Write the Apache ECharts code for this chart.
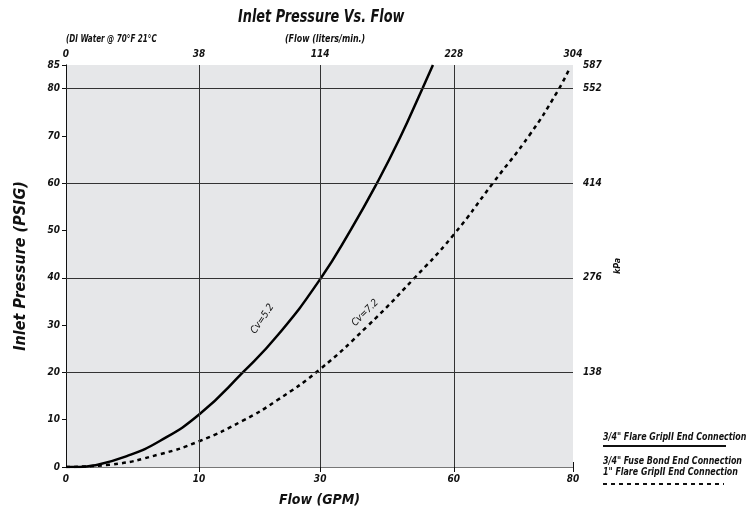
<!DOCTYPE html>
<html>
<head>
<meta charset="utf-8">
<script src="https://cdn.jsdelivr.net/npm/echarts@6/dist/echarts.min.js"></script>
<style>html,body{margin:0;padding:0;background:#fff}#c{width:747px;height:512px}</style>
</head>
<body>
<div id="c"></div>
<script>
// Flow axis positions (linear GPM scale 0-80) and their printed labels
const flowTickPos = [0, 21.0, 40.1, 61.2, 80];
const gpmLabels = ['0', '10', '30', '60', '80'];
const lpmLabels = ['0', '38', '114', '228', '304'];
// Pressure axis
const psiTicks = [0, 10, 20, 30, 40, 50, 60, 70, 80, 85];
const psiGrid = [20, 40, 60, 80];
const kpaTicks = [20, 40, 60, 80, 85];
const kpaLabels = ['138', '276', '414', '552', '587'];

// Cv = 5.2 curve (solid)
const solidFlow = [0, 2.2, 4.3, 9.6, 14.8, 21.1, 27.9, 33.5, 40.1, 45.0, 49.1, 52.7, 56.3, 57.9];
const solidPsi  = [0, 0, 0.3, 2.3, 5.5, 11.2, 20.0, 28.0, 39.7, 50.3, 60.1, 69.6, 80.2, 85];
// Cv = 7.2 curve (dashed)
const dashFlow = [0, 6.9, 14.8, 21.1, 27.9, 33.3, 40.1, 47.5, 54.8, 61.1, 67.4, 73.2, 77.5, 79.5];
const dashPsi  = [0, 0.5, 2.7, 5.5, 9.8, 14.1, 20.7, 29.7, 39.7, 49.0, 60.1, 70.3, 79.3, 84.4];

const titleText = 'Inlet Pressure Vs. Flow';
const subLeft = '(DI Water @ 70°F 21°C';
const subMid = '(Flow (liters/min.)';
const legendSolid = '3/4" Flare GripII End Connection';
const legendDash1 = '3/4" Fuse Bond End Connection';
const legendDash2 = '1" Flare GripII End Connection';

const FF = "'DejaVu Sans Condensed', 'Liberation Sans', sans-serif";
const tf = (size) => ({ fontFamily: FF, fontStyle: 'italic', fontWeight: 'bold', fontSize: size, color: '#111' });
const gfont = (size) => `italic bold ${size}px ${FF}`;

const chart = echarts.init(document.getElementById('c'), null, { renderer: 'canvas' });
const zip = (a, b) => a.map((v, i) => [v, b[i]]);

chart.setOption({
  animation: false,
  grid: { left: 66, right: 174, top: 65, bottom: 44, show: true, backgroundColor: '#e6e7e9', borderWidth: 0 },
  xAxis: [
    {
      type: 'value', position: 'bottom', min: 0, max: 80,
      name: 'Flow (GPM)', nameLocation: 'middle', nameGap: 26, nameTextStyle: tf(14),
      axisLine: { show: true, lineStyle: { color: '#111', width: 1 } },
      axisTick: { show: true, customValues: flowTickPos.slice(1), length: 5, lineStyle: { color: '#111' } },
      axisLabel: { customValues: flowTickPos, margin: 7, formatter: v => gpmLabels[flowTickPos.indexOf(v)], ...tf(10) },
      splitLine: { show: false }
    },
    {
      type: 'value', position: 'top', min: 0, max: 80,
      axisLine: { show: true, lineStyle: { color: '#777', width: 1 } },
      axisTick: { show: true, customValues: flowTickPos, length: 5, lineStyle: { color: '#111' } },
      axisLabel: { customValues: flowTickPos, margin: 6, formatter: v => lpmLabels[flowTickPos.indexOf(v)], ...tf(10) },
      splitLine: { show: false }
    }
  ],
  yAxis: [
    {
      type: 'value', position: 'left', min: 0, max: 85,
      name: 'Inlet Pressure (PSIG)', nameLocation: 'middle', nameGap: 37, nameRotate: 90, nameTextStyle: tf(16),
      axisLine: { show: true, lineStyle: { color: '#777', width: 1 } },
      axisTick: { show: true, customValues: psiTicks, length: 4, lineStyle: { color: '#111' } },
      axisLabel: { customValues: psiTicks, margin: 6, ...tf(10) },
      splitLine: { show: false }
    },
    {
      type: 'value', position: 'right', min: 0, max: 85,
      name: 'kPa', nameLocation: 'middle', nameGap: 24, nameRotate: 90, nameTextStyle: tf(9),
      axisLine: { show: true, lineStyle: { color: '#111', width: 1 } },
      axisTick: { show: true, customValues: psiGrid, length: 8, lineStyle: { color: '#333' } },
      axisLabel: { customValues: kpaTicks, margin: 10, formatter: v => kpaLabels[kpaTicks.indexOf(v)], ...tf(10) },
      splitLine: { show: false }
    }
  ],
  graphic: [
    { type: 'text', x: 238, y: 9, scaleX: 0.84, style: { text: titleText, font: gfont(17), fill: '#111' } },
    { type: 'text', x: 66, y: 34, scaleX: 0.8, style: { text: subLeft, font: gfont(10), fill: '#111' } },
    { type: 'text', x: 285, y: 34, scaleX: 0.88, style: { text: subMid, font: gfont(10), fill: '#111' } },
    { type: 'text', x: 603, y: 432, scaleX: 0.8, style: { text: legendSolid, font: gfont(11), fill: '#111' } },
    { type: 'line', shape: { x1: 603, y1: 446, x2: 726, y2: 446 }, style: { stroke: '#111', lineWidth: 2 } },
    { type: 'text', x: 603, y: 456, scaleX: 0.8, style: { text: legendDash1, font: gfont(11), fill: '#111' } },
    { type: 'text', x: 603, y: 467, scaleX: 0.8, style: { text: legendDash2, font: gfont(11), fill: '#111' } },
    { type: 'line', shape: { x1: 603, y1: 484, x2: 724, y2: 484 }, style: { stroke: '#111', lineWidth: 2, lineDash: [4, 4] } }
  ],
  series: [
    {
      type: 'line', data: [], z: 1, silent: true,
      markLine: {
        silent: true, symbol: 'none', label: { show: false },
        lineStyle: { color: '#333', width: 1, type: 'solid' },
        data: flowTickPos.slice(1, 4).map(v => ({ xAxis: v })).concat(psiGrid.map(v => ({ yAxis: v })))
      }
    },
    {
      name: 'Cv=5.2', type: 'line', smooth: true, symbol: 'none', z: 3,
      data: zip(solidFlow, solidPsi),
      lineStyle: { color: '#000', width: 2.5 },
      markPoint: {
        symbol: 'circle', symbolSize: 0,
        label: { show: true, formatter: 'Cv=5.2', rotate: 56, fontFamily: FF, fontSize: 10, fontStyle: 'italic', fontWeight: 500, color: '#111' },
        data: [{ coord: [31.0, 31.3] }]
      }
    },
    {
      name: 'Cv=7.2', type: 'line', smooth: true, symbol: 'none', z: 3,
      data: zip(dashFlow, dashPsi),
      lineStyle: { color: '#000', width: 2.5, type: [4, 4] },
      markPoint: {
        symbol: 'circle', symbolSize: 0,
        label: { show: true, formatter: 'Cv=7.2', rotate: 45, fontFamily: FF, fontSize: 10, fontStyle: 'italic', fontWeight: 500, color: '#111' },
        data: [{ coord: [47.2, 32.6] }]
      }
    }
  ]
});
</script>
</body>
</html>
